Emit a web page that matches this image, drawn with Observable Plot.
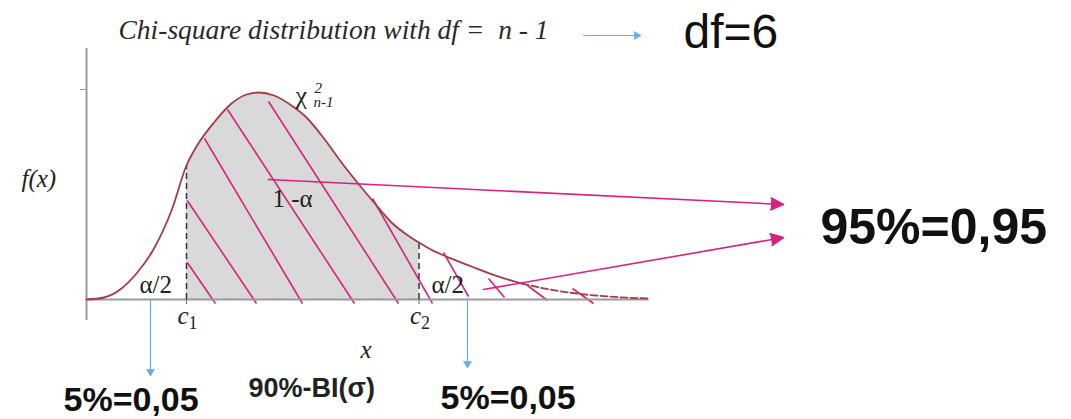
<!DOCTYPE html>
<html>
<head>
<meta charset="utf-8">
<script src="https://cdn.jsdelivr.net/npm/d3@7"></script>
<script src="https://cdn.jsdelivr.net/npm/@observablehq/plot@0.6"></script>
<style>
  body { margin: 0; background: #fff; }
  #chart svg { display: block; overflow: visible; }
</style>
</head>
<body>
<div id="chart"></div>
<script>
// Density curve f(x), sampled along x
const curveX = [0, 0.7, 1.4, 2.0, 2.7, 3.4, 4.0, 4.4, 5.1, 5.8, 6.4, 6.9, 7.5, 8.2, 8.8, 9.5, 10.2, 10.8,
                11.5, 12.2, 12.8, 13.3, 13.8, 14.2, 14.6, 15.4, 16.4, 17.4, 18.4, 19.8, 21.1, 22.5];
const curveY = [0, 0.001, 0.0055, 0.013, 0.0255, 0.0445, 0.067, 0.0765, 0.0885, 0.098, 0.1025, 0.1035, 0.102,
                0.097, 0.091, 0.0805, 0.0685, 0.059, 0.0485, 0.0385, 0.0325, 0.0285, 0.0248, 0.0225, 0.0204,
                0.0165, 0.0118, 0.008, 0.0053, 0.0027, 0.0013, 0.0005];

// Critical values c1, c2 and the density at each
const criticalX = [4.0, 13.3];
const criticalY = [0.067, 0.0285];
const criticalNames = ["1", "2"];

// Hatch strokes across the distribution (start and end points)
const hatchX1 = [4.03, 4.03, 4.72, 5.64, 7.28, 11.44, 14.28, 16.08, 17.64, 19.44];
const hatchY1 = [0.0185, 0.0495, 0.0805, 0.095, 0.099, 0.0505, 0.0235, 0.0105, 0.007, 0.0055];
const hatchX2 = [5.16, 6.8, 8.64, 10.72, 12.48, 13.84, 15.28, 16.72, 18.44, 20.28];
const hatchY2 = [-0.002, -0.002, -0.002, -0.002, -0.002, -0.002, 0.0015, 0.001, -0.0005, -0.002];

// Label texts
const titleText = "Chi-square distribution with df =  n - 1";
const dfText = "df=6";
const centralText = "95%=0,95";
const tailText = "5%=0,05";
const intervalText = "90%-BI(σ)";
const yAxisTicks = [0.105];

const pink = "#d6237c";
const blue = "#62aee8";
const maroon = "#a23c48";
const serif = "'Liberation Serif', 'Times New Roman', serif";
const sans = "'Liberation Sans', Arial, sans-serif";

const curve = curveX.map((x, i) => ({x, y: curveY[i]}));
const [c1, c2] = criticalX;
const shaded = curve.filter(d => d.x >= c1 && d.x <= c2);
const solidPart = curve.filter(d => d.x <= 17.4);
const dashedPart = curve.filter(d => d.x >= 17.4);
const critical = criticalX.map((x, i) => ({x, y: criticalY[i], name: criticalNames[i]}));
const hatch = hatchX1.map((x1, i) => ({x1, y1: hatchY1[i], x2: hatchX2[i], y2: hatchY2[i]}));

function label(text, x, y, options = {}) {
  return Plot.text([{x, y, text}], {
    x: "x", y: "y", text: "text",
    textAnchor: "start", lineAnchor: "bottom",
    fontFamily: serif, fontSize: 24, fill: "#222",
    ...options
  });
}

const chart = Plot.plot({
  width: 1071,
  height: 419,
  marginLeft: 86,
  marginRight: 422.5,
  marginTop: 48,
  marginBottom: 120,
  x: {domain: [0, 22.5], axis: null},
  y: {domain: [0, 0.1255], label: null},
  marks: [
    // central region between c1 and c2
    Plot.areaY(shaded, {x: "x", y: "y", curve: "monotone-x", fill: "#d9d9d9"}),
    // hatch strokes
    Plot.link(hatch, {x1: "x1", y1: "y1", x2: "x2", y2: "y2", stroke: pink, strokeWidth: 1.6}),
    // axes
    Plot.ruleX([0], {y1: -0.0105, y2: 0.1255, stroke: "#9a9a9a", strokeWidth: 2}),
    Plot.axisY({ticks: yAxisTicks, tickFormat: () => "", tickSize: 6, stroke: "#9a9a9a", label: null}),
    Plot.ruleY([0], {x1: 0, x2: 22.5, stroke: "#9a9a9a", strokeWidth: 2}),
    Plot.ruleX(critical, {x: "x", y1: 0, y2: -0.0025, stroke: "#666", strokeWidth: 1}),
    // dashed verticals at c1, c2
    Plot.ruleX(critical, {x: "x", y1: 0, y2: "y", stroke: "#333", strokeWidth: 1.5, strokeDasharray: "6,4"}),
    // density curve
    Plot.line(solidPart, {x: "x", y: "y", curve: "monotone-x", stroke: maroon, strokeWidth: 1.8}),
    Plot.line(dashedPart, {x: "x", y: "y", curve: "monotone-x", stroke: maroon, strokeWidth: 1.8, strokeDasharray: "7,3"}),
    // pointers to the 95% label
    Plot.arrow([{x1: 7.28, y1: 0.06, x2: 27.88, y2: 0.0475}, {x1: 15.88, y1: 0.005, x2: 27.88, y2: 0.031}], {
      x1: "x1", y1: "y1", x2: "x2", y2: "y2", stroke: pink, fill: pink, strokeWidth: 1.6, headLength: 13, headAngle: 50
    }),
    // tail pointers
    Plot.arrow([{x1: 2.56, y1: -0.0005, x2: 2.56, y2: -0.038}, {x1: 15.24, y1: -0.0005, x2: 15.24, y2: -0.034}], {
      x1: "x1", y1: "y1", x2: "x2", y2: "y2", stroke: blue, fill: blue, strokeWidth: 1.2, headLength: 9, headAngle: 60
    }),
    Plot.arrow([{x1: 19.88, y1: 0.132, x2: 22.16, y2: 0.132}], {
      x1: "x1", y1: "y1", x2: "x2", y2: "y2", stroke: blue, fill: blue, strokeWidth: 1.2, headLength: 9, headAngle: 60
    }),
    // texts
    label(titleText, 1.28, 0.1305, {fontStyle: "italic", fontSize: 27.5, fill: "#2a2a2a"}),
    label(dfText, 23.88, 0.126, {fontFamily: sans, fontSize: 48, fill: "#111"}),
    label(centralText, 29.36, 0.028, {fontFamily: sans, fontSize: 50, fontWeight: "bold", fill: "#111"}),
    label("f(x)", -2.6, 0.0565, {fontStyle: "italic", fontSize: 25}),
    label("χ", 8.36, 0.098, {fontSize: 26}),
    label("2", 9.12, 0.1035, {fontStyle: "italic", fontSize: 15}),
    label("n-1", 9.08, 0.0965, {fontStyle: "italic", fontSize: 15}),
    label("1 -α", 7.44, 0.0465, {fontSize: 25}),
    label("α/2", 2.12, 0.0035, {fontSize: 25}),
    label("α/2", 13.8, 0.0035, {fontSize: 25}),
    Plot.text(critical, {x: d => d.x - 0.36, y: -0.012, text: () => "c", textAnchor: "start", lineAnchor: "bottom",
      fontFamily: serif, fontStyle: "italic", fontSize: 25, fill: "#222"}),
    Plot.text(critical, {x: d => d.x + 0.08, y: -0.0145, text: "name", textAnchor: "start", lineAnchor: "bottom",
      fontFamily: serif, fontSize: 18, fill: "#222"}),
    label("x", 10.96, -0.029, {fontStyle: "italic", fontSize: 25}),
    label(tailText, -0.92, -0.0558, {fontFamily: sans, fontSize: 34, fontWeight: "bold", fill: "#111"}),
    label(intervalText, 6.48, -0.0485, {fontFamily: sans, fontSize: 27, fontWeight: "bold", fill: "#222"}),
    label(tailText, 14.16, -0.0545, {fontFamily: sans, fontSize: 34, fontWeight: "bold", fill: "#111"})
  ]
});

document.getElementById("chart").append(chart);
</script>
</body>
</html>
